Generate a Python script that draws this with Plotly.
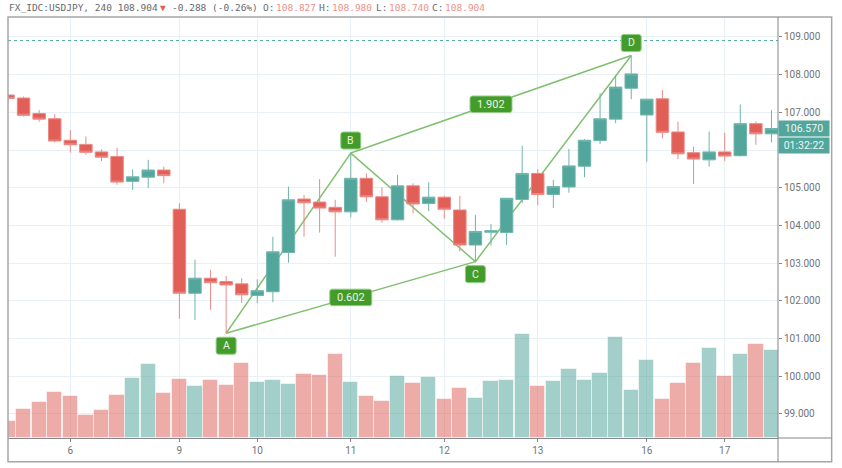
import plotly.graph_objects as go

# 240 minute bars
bar_index = list(range(50))
opens = [107.46, 107.38, 106.97, 106.83, 106.26, 106.15, 105.95, 105.83, 105.17, 105.28,
         105.47, 104.43, 102.20, 102.60, 102.51, 102.45, 102.14, 102.24, 103.28, 104.70,
         104.62, 104.48, 104.36, 105.25, 104.76, 104.15, 105.05, 104.58, 104.75, 104.41,
         103.48, 103.82, 103.81, 104.69, 105.38, 104.82, 105.02, 105.57, 106.25, 106.82,
         107.64, 106.93, 107.36, 106.48, 105.93, 105.74, 105.95, 105.85, 106.70, 106.43]
highs = [107.46, 107.42, 107.06, 106.95, 106.53, 106.36, 106.02, 106.06, 105.49, 105.74,
         105.56, 104.59, 103.09, 102.82, 102.66, 102.60, 102.57, 103.70, 105.03, 104.81,
         105.23, 104.68, 105.92, 105.38, 105.01, 105.34, 105.12, 105.15, 104.79, 104.79,
         104.28, 104.04, 104.72, 106.11, 105.49, 105.21, 106.03, 106.29, 107.51, 107.99,
         108.51, 107.35, 107.59, 106.75, 106.09, 106.49, 106.46, 107.21, 106.76, 107.06]
lows = [107.25, 106.89, 106.75, 106.20, 105.93, 105.88, 105.71, 105.08, 104.94, 104.99,
        105.12, 101.52, 101.49, 101.76, 101.14, 101.94, 101.94, 101.96, 103.01, 103.70,
        103.81, 103.17, 104.21, 104.62, 104.07, 104.13, 104.32, 104.38, 104.18, 103.31,
        103.04, 103.46, 103.48, 104.59, 104.54, 104.46, 104.87, 105.28, 106.16, 106.71,
        107.35, 105.69, 106.31, 105.76, 105.10, 105.56, 105.71, 105.83, 106.14, 106.20]
closes = [107.37, 106.92, 106.82, 106.24, 106.14, 105.94, 105.81, 105.15, 105.29, 105.47,
          105.32, 102.20, 102.60, 102.48, 102.42, 102.16, 102.27, 103.30, 104.68, 104.60,
          104.46, 104.36, 105.25, 104.76, 104.15, 105.05, 104.57, 104.75, 104.43, 103.48,
          103.84, 103.86, 104.72, 105.38, 104.82, 105.03, 105.58, 106.26, 106.83, 107.67,
          108.02, 107.35, 106.47, 105.90, 105.76, 105.95, 105.84, 106.70, 106.43, 106.57]
volumes = [50, 87, 107, 138, 125, 68, 84, 129, 179, 223,
           134, 177, 156, 174, 159, 224, 168, 173, 161, 192,
           188, 253, 168, 125, 110, 187, 165, 184, 117, 150,
           120, 170, 175, 313, 156, 172, 206, 175, 195, 303,
           143, 233, 117, 165, 226, 271, 187, 253, 281, 265]

day_ticks = [4, 11, 16, 22, 28, 34, 41, 46]
day_labels = ["6", "9", "10", "11", "12", "13", "16", "17"]
price_ticks = [99, 100, 101, 102, 103, 104, 105, 106, 107, 108, 109]
# 106 sits behind the countdown box in the original
price_labels = ["99.000", "100.000", "101.000", "102.000", "103.000", "104.000", "105.000", "", "107.000",
                "108.000", "109.000"]

# ABCD pattern
pattern_names = ["A", "B", "C", "D"]
pattern_x = [14, 22, 30, 40]
pattern_y = [101.14, 105.92, 103.04, 108.51]
ratio_labels = ["0.602", "1.902"]

day_close = 108.904
last_close = 106.57
countdown = "01:32:22"

RED = "#e25f58"
TEAL = "#53a69b"
PILL = "#439c2a"
LINE = "#80c070"
TEXT = "#6f7379"
MONO = "DejaVu Sans Mono"

fig = go.Figure()

vol_colors = ["rgba(83,166,155,0.54)" if c >= o else "rgba(222,90,84,0.5)" for o, c in zip(opens, closes)]
fig.add_trace(go.Bar(x=bar_index, y=volumes, marker_color=vol_colors, marker_line_width=1,
                     marker_line_color="rgba(255,255,255,0.5)", width=0.98, yaxis="y", showlegend=False))

# lines sit under the candles, so they get their own overlay axis
ax, bx, cx, dx = pattern_x
ay, by, cy, dy = pattern_y
for xs, ys in [([ax, bx, cx, dx], [ay, by, cy, dy]), ([ax, cx], [ay, cy]), ([bx, dx], [by, dy])]:
    fig.add_trace(go.Scatter(x=xs, y=ys, mode="lines", line=dict(color=LINE, width=1.5), yaxis="y2", showlegend=False))

fig.add_trace(go.Candlestick(
    x=bar_index, open=opens, high=highs, low=lows, close=closes, yaxis="y3", showlegend=False,
    whiskerwidth=0,
    increasing=dict(fillcolor=TEAL, line=dict(color="#6fb5ab", width=1)),
    decreasing=dict(fillcolor=RED, line=dict(color="#ea8a85", width=1)),
))


def pill(x, y, w, h, shift):
    # rounded label box, sized in pixels around a data point
    l, r, b, t = -w / 2, w / 2, shift - h / 2, shift + h / 2
    c = 2.5
    path = (f"M {l + c} {b} L {r - c} {b} Q {r} {b} {r} {b + c} L {r} {t - c} Q {r} {t} {r - c} {t} "
            f"L {l + c} {t} Q {l} {t} {l} {t - c} L {l} {b + c} Q {l} {b} {l + c} {b} Z")
    return dict(type="path", xref="x", yref="y3", xsizemode="pixel", ysizemode="pixel", xanchor=x, yanchor=y,
                path=path, fillcolor=PILL, line=dict(color="#93cd86", width=1), layer="above")


shapes = [
    dict(type="line", xref="paper", yref="y3", x0=0, x1=1, y0=day_close, y1=day_close, layer="above",
         line=dict(color="#4ca79c", width=1, dash="dot")),
    # outer frame and the price axis running down to it
    dict(type="rect", xref="paper", yref="paper", x0=0, x1=1.0697, y0=-0.0563, y1=1, layer="above",
         line=dict(color="#a6a6aa", width=1.5)),
    dict(type="line", xref="paper", yref="paper", x0=1, x1=1, y0=-0.0563, y1=1, layer="above",
         line=dict(color="#85858b", width=1)),
    dict(type="line", xref="paper", yref="paper", x0=1, x1=1.0697, y0=0, y1=0, layer="above",
         line=dict(color="#85858b", width=1)),
]
annotations = []

shifts = [-12.5, 12.5, -12.5, 12.5]
for name, x, y, s in zip(pattern_names, pattern_x, pattern_y, shifts):
    shapes.append(pill(x, y, 20, 17, s))
    annotations.append(dict(x=x, y=y, xref="x", yref="y3", text=name, showarrow=False, yshift=s,
                            font=dict(family="Roboto", size=10.5, color="#e9f6e5")))

ratio_mid = [((ax + cx) / 2, (ay + cy) / 2), ((bx + dx) / 2, (by + dy) / 2)]
for label, (x, y) in zip(ratio_labels, ratio_mid):
    shapes.append(pill(x, y, 42, 16.5, 0))
    annotations.append(dict(x=x, y=y, xref="x", yref="y3", text=label, showarrow=False,
                            font=dict(family="Roboto", size=11, color="#e9f6e5")))

# last price and countdown boxes on the axis
for text, s in [(f"{last_close:.3f}", 0), (countdown, -17)]:
    annotations.append(dict(x=1, xref="paper", xanchor="left", y=last_close, yref="y3", yshift=s, text=text,
                            showarrow=False, bgcolor=TEAL, width=50, height=15, borderpad=0,
                            font=dict(family="Roboto", size=10.5, color="#eef7f5")))

# header line, monospaced pieces
header = [
    ("FX_IDC:USDJPY, 240 108.904", 0, "#666970"),
    ("▼", 150.5, RED),
    ("-0.288 (-0.26%)", 163, "#666970"),
    ("O:", 253.5, "#666970"), ("108.827", 266.5, "#f0908a"),
    ("H:", 309.5, "#666970"), ("108.980", 322.5, "#f0908a"),
    ("L:", 366.5, "#666970"), ("108.740", 379.5, "#f0908a"),
    ("C:", 422.5, "#666970"), ("108.904", 435.5, "#f0908a"),
]
for text, px, color in header:
    annotations.append(dict(x=0, y=1, xref="paper", yref="paper", xanchor="left", yanchor="middle",
                            xshift=px - 1, yshift=10, text=text, showarrow=False,
                            font=dict(family=MONO, size=9.5, color=color)))

GRID = "#e8eff5"
fig.update_layout(
    width=842,
    height=468,
    autosize=False,
    margin=dict(l=7.5, r=64, t=17, b=30),
    plot_bgcolor="white",
    paper_bgcolor="white",
    showlegend=False,
    bargap=0,
    boxgap=0.2,
    boxgroupgap=0,
    shapes=shapes,
    annotations=annotations,
    xaxis=dict(range=[0, 49.42], tickmode="array", tickvals=day_ticks, ticktext=day_labels, showgrid=True,
               gridcolor=GRID, gridwidth=1, zeroline=False, rangeslider_visible=False, ticks="outside", ticklen=3,
               tickcolor="#85858b", showline=True, linecolor="#85858b", linewidth=1,
               tickfont=dict(family="Roboto", size=10, color=TEXT)),
    yaxis=dict(range=[0, 1263], visible=False, fixedrange=True),
    yaxis2=dict(range=[98.36, 109.53], overlaying="y", visible=False),
    yaxis3=dict(range=[98.36, 109.53], overlaying="y", side="right", anchor="x", tickmode="array",
                tickvals=price_ticks, ticktext=price_labels, showgrid=True,
                gridcolor=GRID, gridwidth=1, zeroline=False, ticks="outside", ticklen=3, tickcolor="#85858b",
                showline=False, tickfont=dict(family="Roboto", size=10, color=TEXT)),
)

fig.write_html("out.html", config={"displayModeBar": False}, post_script="document.body.style.margin='0';")
